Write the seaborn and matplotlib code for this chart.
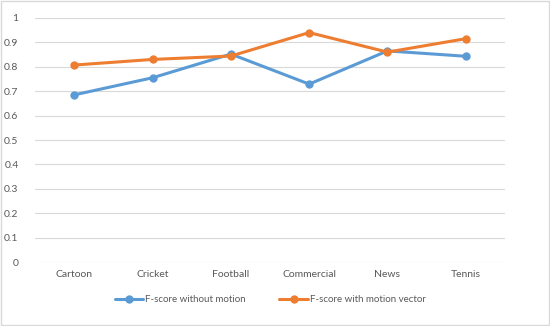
import pandas as pd
import matplotlib.pyplot as plt
import seaborn as sns

# values
categories = ["Cartoon", "Cricket", "Football", "Commercial", "News", "Tennis"]
fscore_no_motion = [0.685, 0.755, 0.852, 0.729, 0.865, 0.843]
fscore_motion_vec = [0.807, 0.830, 0.844, 0.940, 0.860, 0.915]
series_names = ["F-score without motion", "F-score with motion vector"]
y_ticks = [0, 0.1, 0.2, 0.3, 0.4, 0.5, 0.6, 0.7, 0.8, 0.9, 1]

df = pd.DataFrame({
    "Category": categories * 2,
    "Score": fscore_no_motion + fscore_motion_vec,
    "Series": [series_names[0]] * len(categories) + [series_names[1]] * len(categories),
})

sns.set_theme(style="white")
plt.rcParams["font.family"] = ["Lato", "DejaVu Sans"]

fig = plt.figure(figsize=(5.5, 3.26), dpi=100)
ax = fig.add_axes([0.064, 0.196, 0.854, 0.749])

sns.lineplot(data=df, x="Category", y="Score", hue="Series", sort=False,
             palette=["#5B9BD5", "#ED7D31"], marker="o", markersize=6,
             markeredgewidth=0, linewidth=2.2, ax=ax)

ax.set_ylim(0, 1)
ax.set_xlim(-0.5, len(categories) - 0.5)
ax.set_yticks(y_ticks)
ax.set_yticklabels([f"{t:g}" for t in y_ticks])
ax.yaxis.grid(True, color="#D9D9D9", linewidth=0.8)
ax.set_axisbelow(True)
for s in ax.spines.values():
    s.set_visible(False)
ax.tick_params(axis="both", length=0, labelsize=7.5, colors="#595959")
ax.tick_params(axis="y", pad=12)
ax.tick_params(axis="x", pad=6)
ax.set_xlabel("")
ax.set_ylabel("")

ax.legend(loc="upper center", bbox_to_anchor=(0.5, -0.1), ncol=2, frameon=False,
          fontsize=7, labelcolor="#595959", handlelength=2.9, handletextpad=0.2,
          columnspacing=3.5)

# light outer border like the spreadsheet chart frame
fig.patches.append(plt.Rectangle((0.002, 0.003), 0.996, 0.994, transform=fig.transFigure,
                                 fill=False, edgecolor="#D9D9D9", linewidth=1))

fig.savefig("out.png", dpi=100)
